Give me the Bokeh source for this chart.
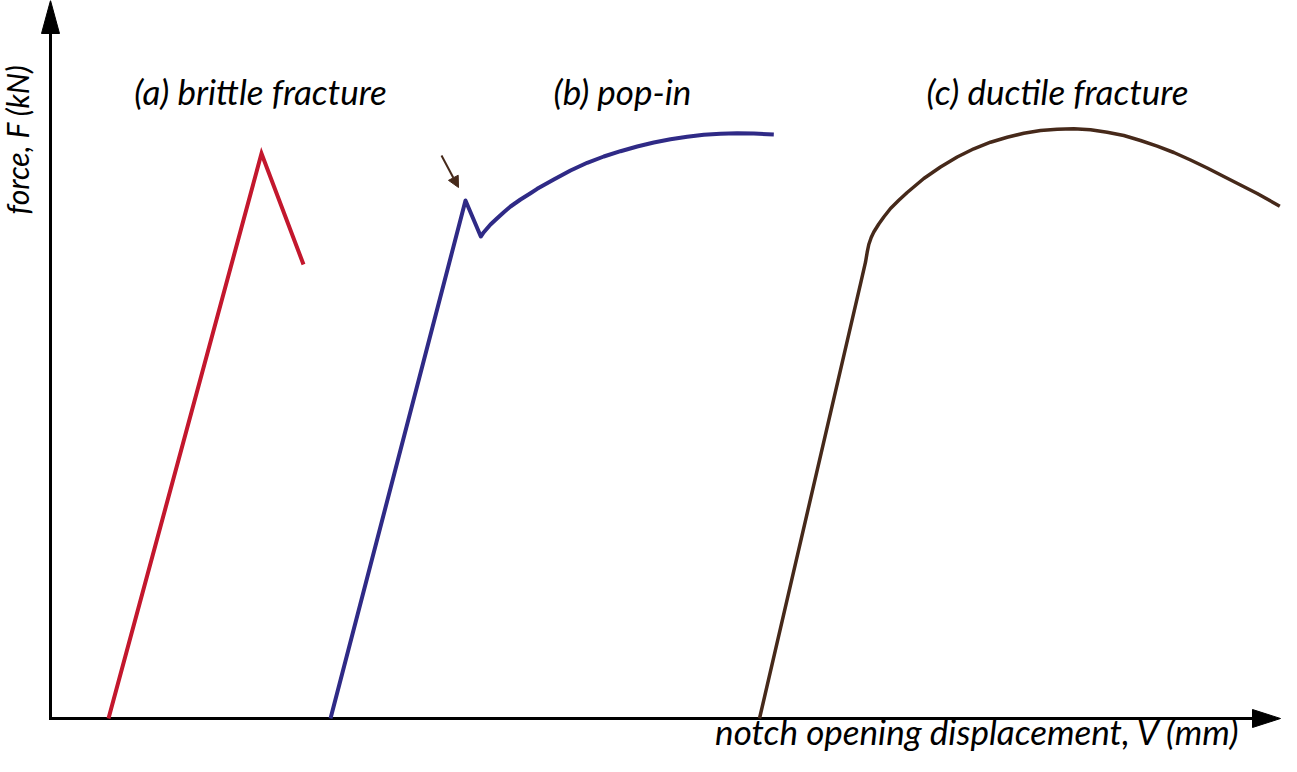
from bokeh.plotting import figure
from bokeh.models import Range1d, Arrow, NormalHead
from bokeh.core.properties import value
from bokeh.embed import file_html
from bokeh.resources import INLINE
import math

# ---- data (displacement V, force F in arbitrary chart units) ----
brittle_v = [0.58, 2.11, 2.53]
brittle_f = [0.0, 5.65, 4.54]

popin_v = [2.80, 4.15, 4.303, 4.333, 4.40, 4.467, 4.533, 4.60, 4.70, 4.80, 4.867, 5.033, 5.20,
           5.367, 5.533, 5.70, 5.867, 6.033, 6.20, 6.367, 6.533, 6.70, 6.867, 7.033, 7.233]
popin_f = [0.0, 5.18, 4.82, 4.863, 4.94, 5.003, 5.063, 5.12, 5.19, 5.253, 5.297, 5.39, 5.48,
           5.557, 5.62, 5.673, 5.72, 5.76, 5.793, 5.817, 5.837, 5.847, 5.853, 5.85, 5.84]

ductile_v = [7.09, 8.10, 8.15, 8.167, 8.183, 8.207, 8.233, 8.283, 8.333, 8.40, 8.483, 8.567, 8.733,
             8.90, 9.067, 9.233, 9.40, 9.567, 9.733, 9.90, 10.067, 10.233, 10.40, 10.567, 10.733,
             10.90, 11.067, 11.233, 11.40, 11.567, 11.733, 11.90, 12.067, 12.293]
ductile_f = [0.0, 4.347, 4.563, 4.663, 4.74, 4.81, 4.865, 4.945, 5.015, 5.10, 5.182, 5.26, 5.40,
             5.515, 5.615, 5.697, 5.763, 5.813, 5.853, 5.88, 5.893, 5.897, 5.887, 5.863, 5.83,
             5.78, 5.723, 5.66, 5.585, 5.505, 5.42, 5.335, 5.25, 5.123]

labels = ["(a) brittle fracture", "(b) pop-in", "(c) ductile fracture"]
label_v = [2.10, 5.72, 10.07]
label_f = [6.28, 6.28, 6.28]

popin_marker_start = (3.91, 5.63)
popin_marker_end = (4.08, 5.31)

x_title = "notch opening displacement, V (mm)"
y_title = "force, F (kN)"

RED = "#c3172d"
BLUE = "#2f2a86"
BROWN = "#46291a"
FONT = "Lato"

W, H = 1281, 756
X0, X1 = -0.50, 12.31
Y0, Y1 = -0.38, 7.18

p = figure(width=W, height=H, x_range=Range1d(X0, X1), y_range=Range1d(Y0, Y1),
           output_backend="svg", toolbar_location=None, min_border=0)
p.axis.visible = False
p.grid.visible = False
p.outline_line_color = None
p.background_fill_color = "white"

# axes with arrowheads
px = (X1 - X0) / W
py = (Y1 - Y0) / H
xtip = X1 - 1 * px
p.line([0, 0, xtip - 26 * px], [Y1 - 33 * py, 0, 0], line_color="black", line_width=3, line_join="miter")
p.patch([0, -9 * px, 9 * px], [Y1, Y1 - 33 * py, Y1 - 33 * py], fill_color="black", line_color="black", line_width=1)
p.patch([xtip, xtip - 28 * px, xtip - 28 * px], [0, 9 * py, -9 * py], fill_color="black", line_color="black", line_width=1)

# curves
p.line(brittle_v, brittle_f, line_color=RED, line_width=4, line_join="miter")
p.line(popin_v, popin_f, line_color=BLUE, line_width=4, line_join="round")
p.line(ductile_v, ductile_f, line_color=BROWN, line_width=3.5, line_join="round")

# pop-in marker arrow
p.add_layout(Arrow(x_start=popin_marker_start[0], y_start=popin_marker_start[1],
                   x_end=popin_marker_end[0], y_end=popin_marker_end[1],
                   line_color=BROWN, line_width=2,
                   end=NormalHead(size=11, fill_color=BROWN, line_color=BROWN, line_width=1)))

# texts
p.text(label_v, label_f, text=labels, text_font=value(FONT), text_font_style="italic",
       text_font_size="35px", text_align="center", text_baseline="alphabetic", text_color="black")
p.text([9.275], [-0.12], text=[x_title], text_font=value(FONT), text_font_style="italic",
       text_font_size="35px", text_align="center", text_baseline="alphabetic", text_color="black")
p.text([-0.34], [5.79], text=[y_title], angle=math.pi / 2, text_font=value(FONT), text_font_style="italic",
       text_font_size="30px", text_align="center", text_baseline="alphabetic", text_color="black")

open("out.html", "w").write(file_html(p, INLINE))
